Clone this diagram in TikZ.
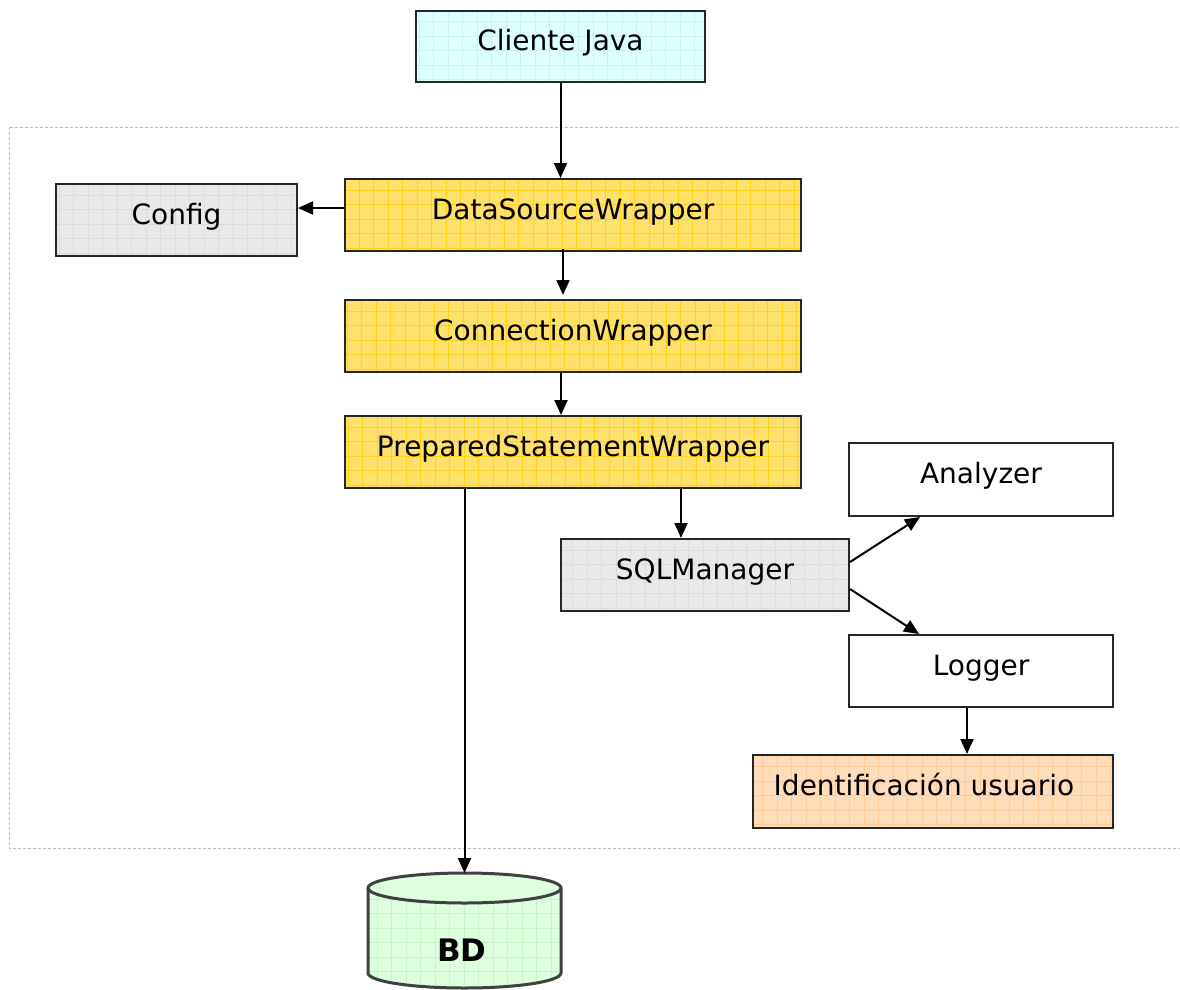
\documentclass[tikz,border=0pt]{standalone}
\usepackage{fontspec}
\setmainfont{DejaVu Sans}
\usetikzlibrary{arrows.meta}
\definecolor{yelfill}{HTML}{FFE06A}
\definecolor{yelgrid}{HTML}{FFD21E}
\definecolor{grayfill}{HTML}{E9E9E9}
\definecolor{graygrid}{HTML}{DCDCDC}
\definecolor{cyanfill}{HTML}{DDFFFF}
\definecolor{cyangrid}{HTML}{CAF2F2}
\definecolor{orafill}{HTML}{FFDDBB}
\definecolor{oragrid}{HTML}{FFCC99}
\definecolor{grnfill}{HTML}{DDFFDD}
\definecolor{grngrid}{HTML}{C8F2C8}
\tikzset{
  box/.style={draw=black!85, line width=2pt, rectangle, inner sep=0pt,
    font=\fontsize{28}{32}\selectfont, text height=21pt, text depth=13pt},
  gridded/.style 2 args={fill=#1, path picture={
      \draw[#2, line width=0.7pt, step=14.5pt]
        (path picture bounding box.south west) grid (path picture bounding box.north east);}},
  conn/.style={line width=2pt, -{Triangle[length=15pt,width=13pt]}},
}
\begin{document}
\begin{tikzpicture}[x=1pt,y=-1pt]
\useasboundingbox (0,0) rectangle (1180,990);
% dotted frame around the wrapper layer
\draw[gray!55, line width=1pt, dash pattern=on 3pt off 2pt] (9,127) rectangle (1180,848);

\node[box, gridded={cyanfill}{cyangrid}, minimum width=289pt, minimum height=71pt] (cliente) at (560.5,46.5) {Cliente Java};
\node[box, gridded={grayfill}{graygrid}, minimum width=241pt, minimum height=72pt] (config) at (176.5,220) {Config};
\node[box, gridded={yelfill}{yelgrid}, minimum width=456pt, minimum height=72pt] (dsw) at (573,215) {DataSourceWrapper};
\node[box, gridded={yelfill}{yelgrid}, minimum width=456pt, minimum height=72pt] (cw) at (573,336) {ConnectionWrapper};
\node[box, gridded={yelfill}{yelgrid}, minimum width=456pt, minimum height=72pt] (psw) at (573,452) {PreparedStatementWrapper};
\node[box, fill=white, minimum width=264pt, minimum height=73pt] (analyzer) at (981,479.5) {Analyzer};
\node[box, gridded={grayfill}{graygrid}, minimum width=288pt, minimum height=72pt] (sqlm) at (705,575) {SQLManager};
\node[box, fill=white, minimum width=264pt, minimum height=72pt] (logger) at (981,671) {Logger};
\node[box, gridded={orafill}{oragrid}, minimum width=360pt, minimum height=73pt] (ident) at (933,791.5) {\hspace*{-18pt}Identificación usuario};

% database cylinder
\begin{scope}
  \path[fill=grnfill] (368,888) arc[start angle=180, end angle=360, x radius=96.5, y radius=-15]
    -- (561,973) arc[start angle=0, end angle=-180, x radius=96.5, y radius=-15] -- cycle;
  \clip (368,888) -- (368,973) arc[start angle=180, end angle=360, x radius=96.5, y radius=-15] -- (561,888) -- cycle;
  \draw[grngrid, line width=0.7pt, step=14.5pt] (368,870) grid (561,990);
\end{scope}
\draw[black!75, line width=3pt, fill=grnfill] (464.5,888) ellipse[x radius=96.5, y radius=15];
\draw[black!75, line width=3pt] (368,888) -- (368,973) arc[start angle=180, end angle=360, x radius=96.5, y radius=-15] -- (561,888);
\coordinate (bdtop) at (464.5,873);
\node[font=\bfseries\fontsize{31}{35}\selectfont] (bd) at (462,950) {BD};

% connectors
\coordinate (dswl) at ([yshift=7pt]dsw.west);
\draw[conn] (cliente.south) -- (cliente.south |- dsw.north);
\draw[conn] (dswl) -- (config.east |- dswl);
\draw[conn] ([xshift=-10pt,yshift=3pt]dsw.south) -- ([xshift=-10pt,yshift=4pt]cw.north);
\draw[conn] ([xshift=-12pt]cw.south) -- ([xshift=-12pt]psw.north);
\draw[conn] (psw.south -| bdtop) -- (bdtop);
\coordinate (sqin) at ([xshift=-24pt]sqlm.north);
\draw[conn] (psw.south -| sqin) -- (sqin);
\draw[conn] ([yshift=13pt]sqlm.east) -- ([xshift=-61pt]analyzer.south);
\draw[conn] ([yshift=-14pt]sqlm.east) -- ([xshift=-62pt]logger.north);
\draw[conn] ([xshift=-14pt]logger.south) -- ([xshift=-14pt]logger.south |- ident.north);
\end{tikzpicture}
\end{document}
